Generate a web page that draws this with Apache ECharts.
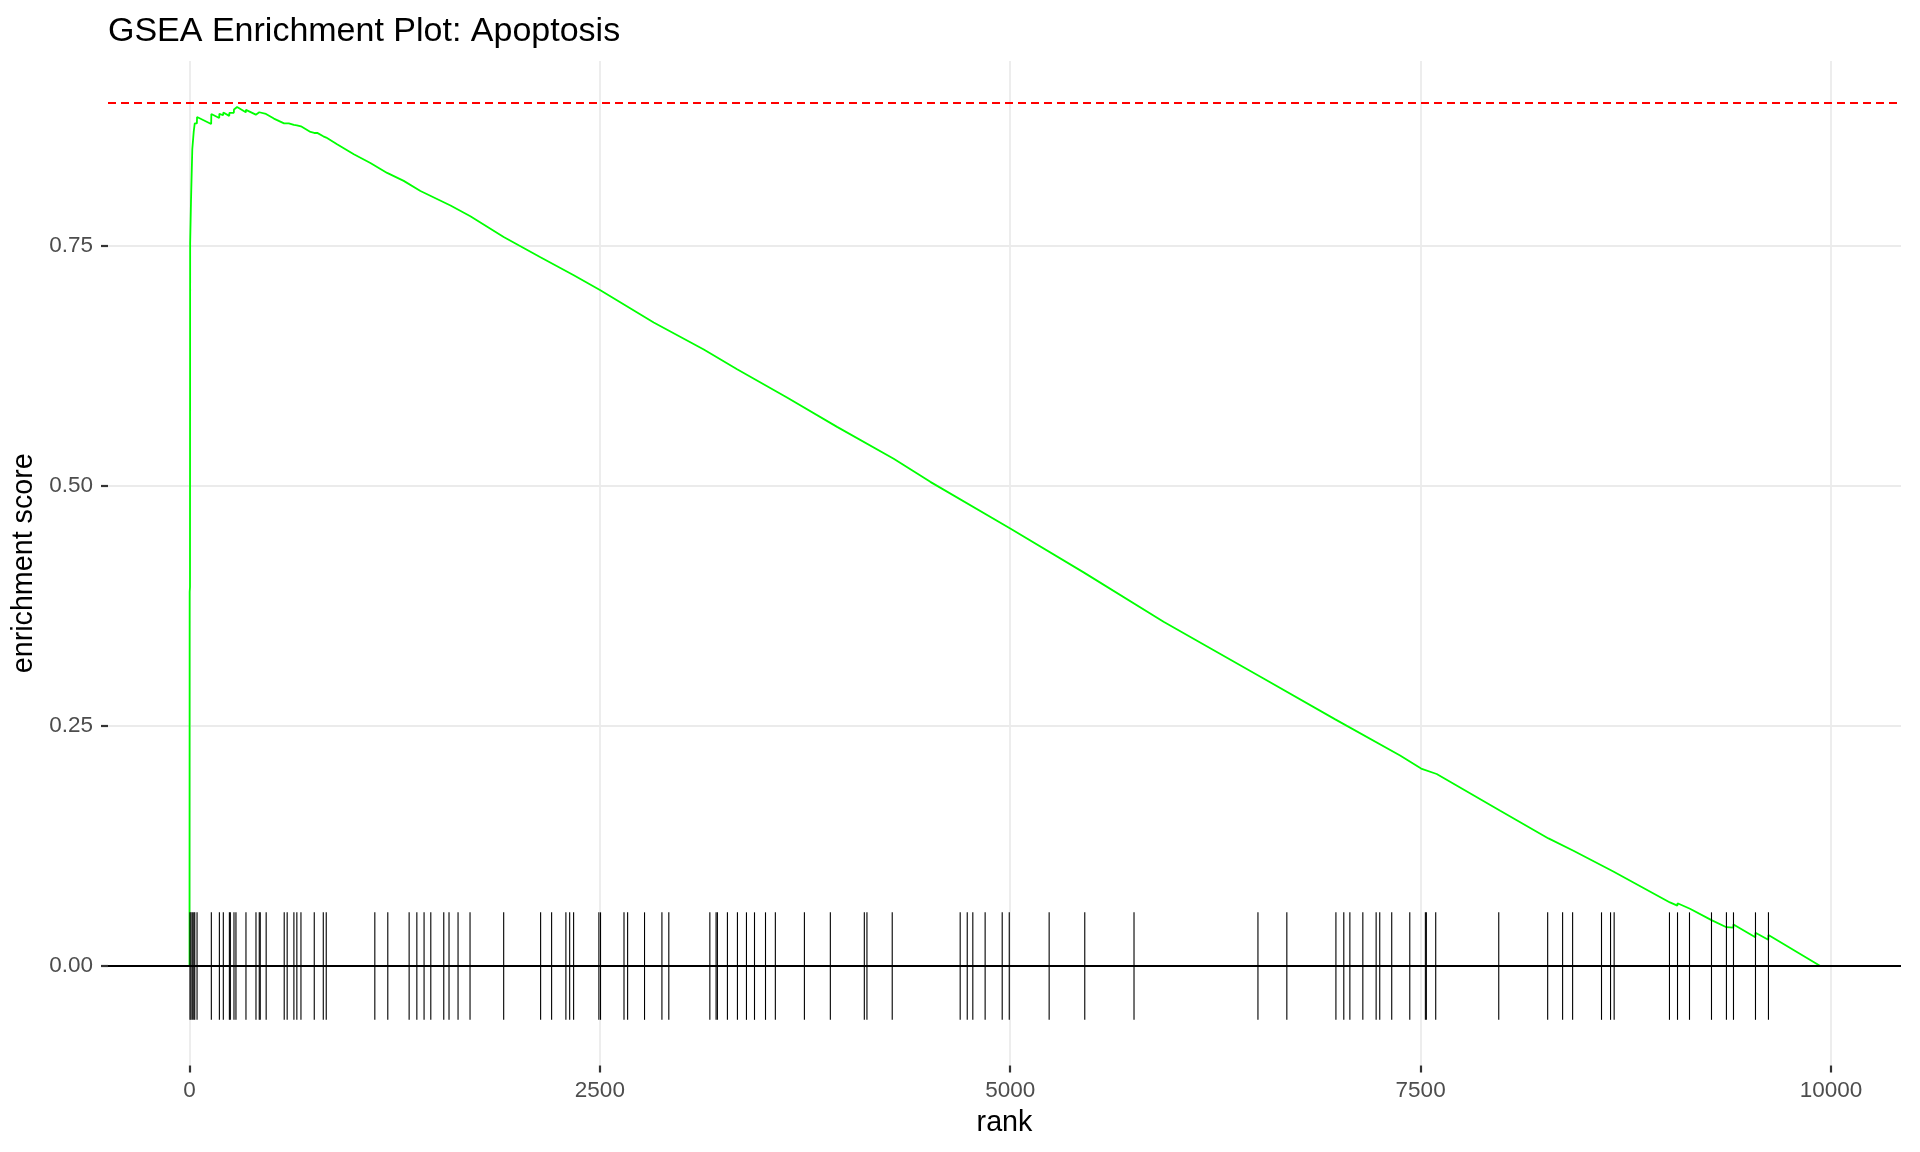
<!DOCTYPE html>
<html>
<head>
<meta charset="utf-8">
<script src="https://cdn.jsdelivr.net/npm/echarts@6/dist/echarts.min.js"></script>
<style>
  html, body { margin: 0; padding: 0; background: #ffffff; }
  #chart { width: 1920px; height: 1152px; }
</style>
</head>
<body>
<div id="chart"></div>
<script>
// ---- Data ----
const titleText = 'GSEA Enrichment Plot: Apoptosis';
const xAxisTitle = 'rank';
const yAxisTitle = 'enrichment score';
const xTickValues = [0, 2500, 5000, 7500, 10000];
const yTickValues = [0, 0.25, 0.5, 0.75];

// running enrichment score: [rank, score]
const esRanks = [0, 1, 3, 4, 8, 9, 16, 17, 25, 26, 31, 32, 45, 46,
  132, 133, 181, 182, 205, 206, 242, 243, 249, 270, 271, 282, 290, 343, 344, 404, 405, 425, 431, 466, 467,
  514, 576, 577, 605, 636, 654, 679, 737, 760, 778, 815, 833, 899, 1001, 1102, 1204, 1305, 1407,
  1590, 1711, 1914, 2138, 2341, 2503, 2828, 3133, 3336, 3640, 3945, 4290, 4513, 5000, 5447, 5934,
  6543, 6980, 7375, 7503, 7598, 7985, 8279, 8431, 8674, 9019, 9064, 9065, 9141, 9272, 9363, 9364,
  9405, 9406, 9539, 9540, 9618, 9619, 9935];
const esScores = [0, 0.39, 0.395, 0.753, 0.753, 0.796, 0.796, 0.851, 0.851, 0.870, 0.870, 0.878, 0.878, 0.8847,
  0.8774, 0.8878, 0.8836, 0.888, 0.8865, 0.8894, 0.8858, 0.889, 0.891, 0.889, 0.8925, 0.8915, 0.895, 0.8895, 0.8921, 0.8871, 0.8885, 0.8896, 0.890, 0.8878, 0.889,
  0.883, 0.878, 0.8795, 0.8781, 0.8765, 0.876, 0.875, 0.8691, 0.868, 0.8681, 0.8645, 0.8632, 0.8562, 0.8458, 0.8367, 0.8264, 0.8181, 0.8076,
  0.7924, 0.7813, 0.7597, 0.7385, 0.7198, 0.7042, 0.6705, 0.6424, 0.6219, 0.5924, 0.5618, 0.5285, 0.5045, 0.4559, 0.4102, 0.3587,
  0.2997, 0.2570, 0.2194, 0.2058, 0.2001, 0.1618, 0.1330, 0.1201, 0.0986, 0.0663, 0.0630, 0.0655, 0.0597, 0.0479, 0.0405, 0.0425,
  0.0400, 0.0434, 0.0300, 0.0347, 0.0275, 0.0323, 0.0];

// positions of gene-set hits (rug ticks)
const hitRanks = [3, 9, 17, 26, 32, 46, 133, 182, 206, 243, 249, 271, 283, 344, 405, 425, 431, 467,
  577, 595, 636, 654, 679, 760, 815, 833, 1129, 1208, 1338, 1385, 1429, 1470, 1549, 1581, 1636, 1709,
  1914, 2139, 2206, 2293, 2316, 2340, 2494, 2504, 2647, 2669, 2772, 2878, 2920, 3170, 3208, 3216,
  3277, 3338, 3393, 3442, 3509, 3569, 3746, 3904, 4111, 4127, 4281, 4695, 4738, 4772, 4847, 4951, 4994,
  5237, 5454, 5754, 6509, 6685, 6984, 7032, 7069, 7148, 7229, 7251, 7324, 7434, 7529, 7535, 7592, 7976,
  8274, 8365, 8426, 8602, 8657, 8679, 9016, 9065, 9138, 9272, 9363, 9406, 9540, 9619];
const rugHalfHeight = 0.056;
const maxES = 0.895;

// ---- Chart ----
const FONT = '"Liberation Sans", Arial, sans-serif';
const esData = esRanks.map((r, i) => [r, esScores[i]]);
const rugData = hitRanks.map(r => [r]);

const chart = echarts.init(document.getElementById('chart'), null, { renderer: 'canvas' });
chart.setOption({
  animation: false,
  backgroundColor: '#ffffff',
  title: {
    text: titleText,
    left: 108, top: 15, padding: 0,
    textStyle: { fontFamily: FONT, fontSize: 34, fontWeight: 'normal', color: '#000000' }
  },
  grid: { left: 108, right: 19, top: 61, bottom: 86.5, containLabel: false },
  xAxis: {
    type: 'value', min: -496.5, max: 10426.5,
    name: xAxisTitle, nameLocation: 'middle', nameGap: 43,
    nameTextStyle: { fontFamily: FONT, fontSize: 28.7, color: '#000000' },
    axisLine: { show: false, onZero: false },
    axisTick: { show: true, length: 7, customValues: xTickValues, lineStyle: { color: '#333333', width: 2.2 } },
    axisLabel: { customValues: xTickValues, margin: 14, fontFamily: FONT, fontSize: 22.5, color: '#4D4D4D',
      formatter: v => String(v) },
    splitLine: { show: true, lineStyle: { color: '#EBEBEB', width: 1.8 } }
  },
  yAxis: {
    type: 'value', min: -0.1036, max: 0.943,
    name: yAxisTitle, nameLocation: 'middle', nameGap: 55, nameRotate: 90,
    nameTextStyle: { fontFamily: FONT, fontSize: 28.7, color: '#000000' },
    axisLine: { show: false, onZero: false },
    axisTick: { show: true, length: 7, customValues: yTickValues, lineStyle: { color: '#333333', width: 2.2 } },
    axisLabel: { customValues: yTickValues, margin: 15, fontFamily: FONT, fontSize: 22.5, color: '#4D4D4D',
      formatter: v => v.toFixed(2) },
    splitLine: { show: true, lineStyle: { color: '#EBEBEB', width: 1.8 } }
  },
  series: [
    {
      type: 'line', data: esData, showSymbol: false, symbol: 'none',
      lineStyle: { color: '#00FF00', width: 1.8 }, z: 2,
      markLine: {
        silent: true, symbol: 'none', label: { show: false },
        lineStyle: { color: '#FF0000', type: [8, 5], width: 1.8 },
        data: [{ yAxis: maxES }]
      }
    },
    {
      type: 'custom', data: rugData, z: 3,
      renderItem: function (params, api) {
        const x = api.value(0);
        const p1 = api.coord([x, rugHalfHeight]);
        const p2 = api.coord([x, -rugHalfHeight]);
        return { type: 'line', shape: { x1: p1[0], y1: p1[1], x2: p2[0], y2: p2[1] },
          style: { stroke: '#000000', lineWidth: 1.1 } };
      }
    },
    {
      type: 'line', data: [], z: 4,
      markLine: {
        silent: true, symbol: 'none', label: { show: false },
        lineStyle: { color: '#000000', type: 'solid', width: 2 },
        data: [{ yAxis: 0 }]
      }
    }
  ]
});
</script>
</body>
</html>
